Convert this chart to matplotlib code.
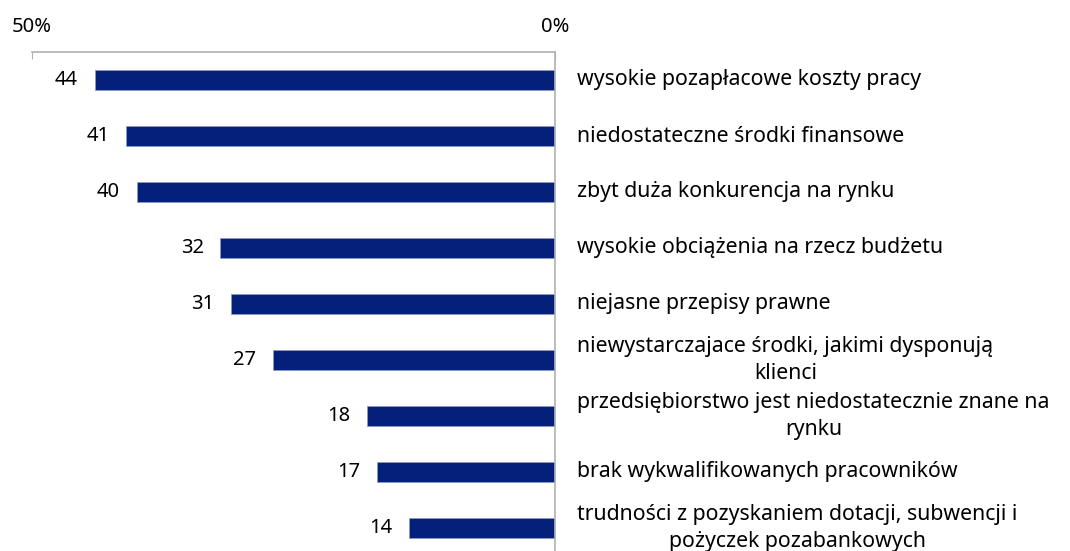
import matplotlib.pyplot as plt

plt.rcParams['font.family'] = ['Noto Sans', 'DejaVu Sans']

categories = [
    'wysokie pozapłacowe koszty pracy',
    'niedostateczne środki finansowe',
    'zbyt duża konkurencja na rynku',
    'wysokie obciążenia na rzecz budżetu',
    'niejasne przepisy prawne',
    'niewystarczajace środki, jakimi dysponują\nklienci',
    'przedsiębiorstwo jest niedostatecznie znane na\nrynku',
    'brak wykwalifikowanych pracowników',
    'trudności z pozyskaniem dotacji, subwencji i\npożyczek pozabankowych',
]
values = [44, 41, 40, 32, 31, 27, 18, 17, 14]
tick_values = [50, 0]
tick_labels = ['50%', '0%']

fig = plt.figure(figsize=(10.7, 5.51), dpi=100)
ax = fig.add_axes([32 / 1070, -5 / 551, 523 / 1070, 504 / 551])

ypos = list(range(len(values)))
ax.barh(ypos, values, height=0.36, color='#04207a', edgecolor='#8f9ac0', linewidth=0.6)

ax.set_xlim(50, 0)
ax.set_ylim(len(values) - 0.5, -0.5)

ax.xaxis.tick_top()
ax.set_xticks(tick_values)
ax.set_xticklabels(tick_labels, fontsize=14.5)
ax.tick_params(axis='x', direction='in', length=5, color='#b0b0b0', pad=11)
ax.set_yticks([])

for s in ['left', 'bottom']:
    ax.spines[s].set_visible(False)
ax.spines['top'].set_color('#b0b0b0')
ax.spines['right'].set_color('#b0b0b0')
ax.spines['top'].set_linewidth(1.2)
ax.spines['right'].set_linewidth(1.2)

for y, v, c in zip(ypos, values, categories):
    ax.annotate(str(v), (v, y), xytext=(-12, 0), textcoords='offset points',
                ha='right', va='center', fontsize=14.5)
    ax.annotate(c, (0, y), xytext=(16, 0), textcoords='offset points',
                ha='left', va='center', multialignment='center', fontsize=15.3,
                linespacing=1.35, annotation_clip=False)

fig.savefig('out.png', dpi=100)
